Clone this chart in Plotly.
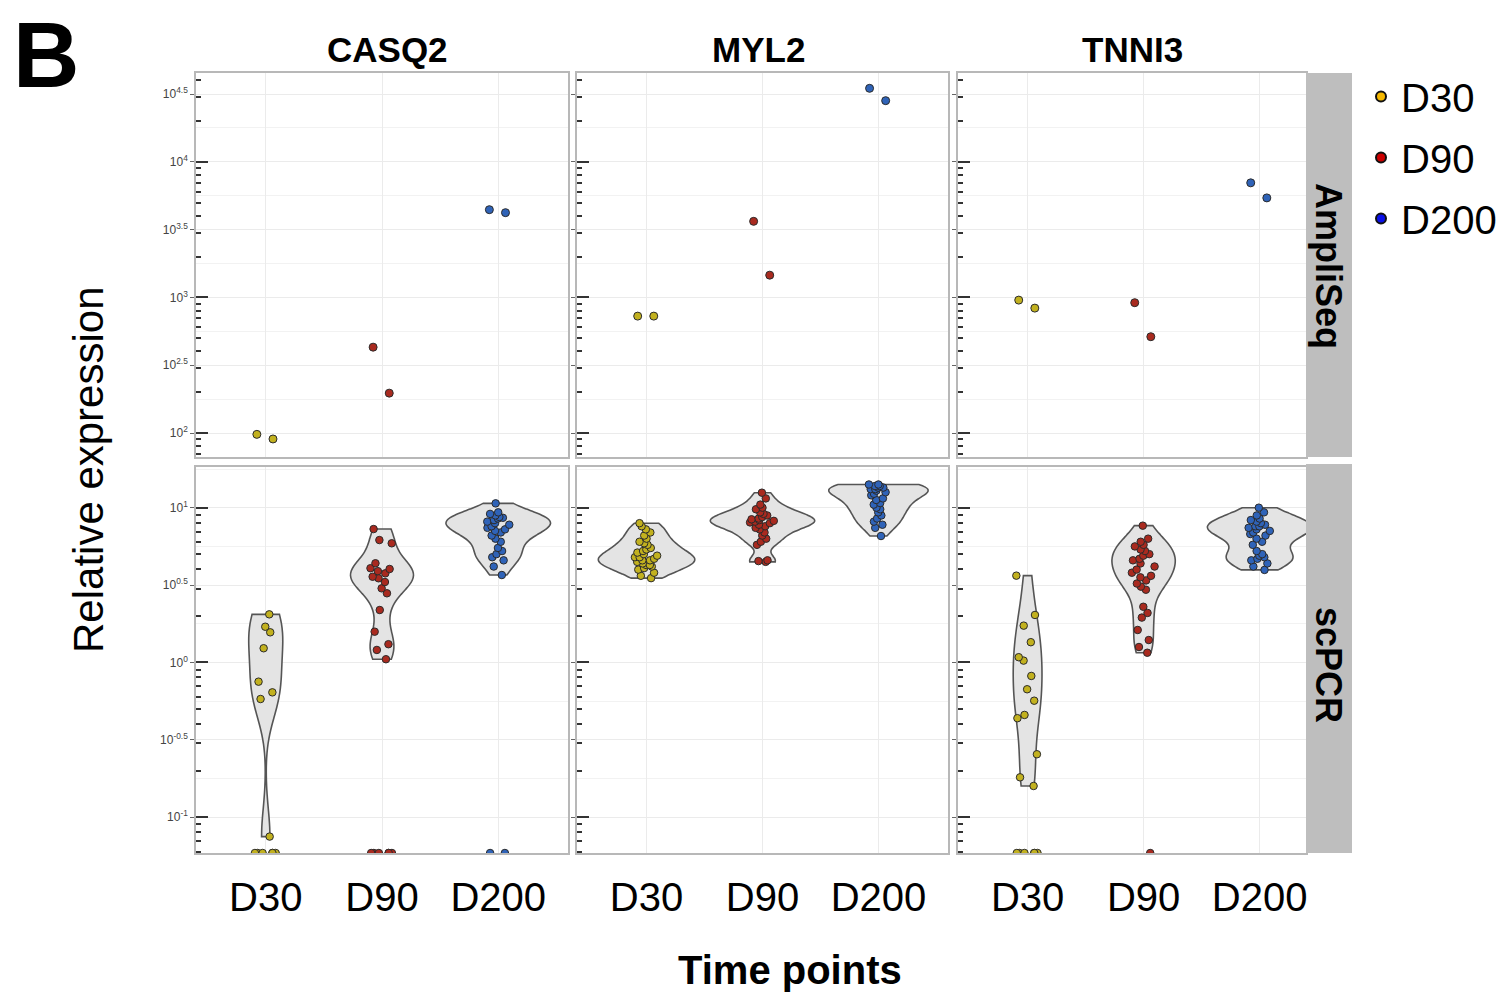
import numpy as np
import plotly.graph_objects as go

# ---------------- data (log10 of relative expression) ----------------
genes = ["CASQ2", "MYL2", "TNNI3"]
time_points = ["D30", "D90", "D200"]
assays = ["AmpliSeq", "scPCR"]

# AmpliSeq: two replicates per time point
casq2_ampliseq_d30 = [1.990, 1.956]
casq2_ampliseq_d90 = [2.633, 2.294]
casq2_ampliseq_d200 = [3.625, 3.647]
myl2_ampliseq_d30 = [2.862, 2.862]
myl2_ampliseq_d90 = [3.561, 3.164]
myl2_ampliseq_d200 = [4.542, 4.451]
tnni3_ampliseq_d30 = [2.921, 2.980]
tnni3_ampliseq_d90 = [2.710, 2.961]
tnni3_ampliseq_d200 = [3.734, 3.845]

# scPCR: single cells with non-zero expression
casq2_scpcr_d30 = [0.311, 0.231, 0.195, 0.092, -0.124, -0.193, -0.236, -1.125]
casq2_scpcr_d90 = [0.862, 0.791, 0.770, 0.641, 0.609, 0.604, 0.590, 0.576, 0.554,
                   0.544, 0.520, 0.479, 0.447, 0.339, 0.199, 0.118, 0.081, 0.021]
casq2_scpcr_d200 = [1.028, 0.970, 0.960, 0.950, 0.940, 0.935, 0.930, 0.920, 0.910,
                    0.900, 0.890, 0.880, 0.870, 0.860, 0.850, 0.840, 0.820, 0.800,
                    0.780, 0.740, 0.720, 0.700, 0.680, 0.660, 0.620, 0.565]
myl2_scpcr_d30 = [0.900, 0.880, 0.860, 0.840, 0.820, 0.800, 0.780, 0.770, 0.760, 0.740,
                  0.730, 0.720, 0.710, 0.700, 0.690, 0.680, 0.680, 0.670, 0.660, 0.660,
                  0.650, 0.640, 0.630, 0.630, 0.620, 0.610, 0.600, 0.580, 0.560, 0.545]
myl2_scpcr_d90 = [1.097, 1.060, 1.020, 1.000, 0.990, 0.970, 0.960, 0.950, 0.940, 0.930,
                  0.925, 0.920, 0.915, 0.910, 0.905, 0.900, 0.890, 0.880, 0.870, 0.860,
                  0.840, 0.820, 0.800, 0.780, 0.760, 0.660, 0.655, 0.650]
myl2_scpcr_d200 = [1.150, 1.150, 1.140, 1.140, 1.130, 1.130, 1.120, 1.120, 1.110, 1.100,
                   1.090, 1.080, 1.060, 1.050, 1.030, 1.020, 1.000, 0.990, 0.970, 0.950,
                   0.930, 0.910, 0.890, 0.870, 0.817]
tnni3_scpcr_d30 = [0.561, 0.307, 0.238, 0.131, 0.034, 0.012, -0.087, -0.173, -0.247,
                   -0.339, -0.360, -0.593, -0.742, -0.798]
tnni3_scpcr_d90 = [0.884, 0.800, 0.780, 0.760, 0.750, 0.730, 0.720, 0.700, 0.690, 0.670,
                   0.660, 0.640, 0.620, 0.600, 0.580, 0.560, 0.550, 0.530, 0.510, 0.490,
                   0.470, 0.360, 0.320, 0.290, 0.210, 0.145, 0.100, 0.063]
tnni3_scpcr_d200 = [1.000, 0.970, 0.950, 0.930, 0.920, 0.910, 0.900, 0.890, 0.880, 0.880,
                    0.870, 0.860, 0.850, 0.840, 0.830, 0.820, 0.800, 0.780, 0.760, 0.720,
                    0.700, 0.690, 0.680, 0.670, 0.660, 0.640, 0.620, 0.598]

# scPCR cells with zero expression (drawn at the axis floor, as -Inf on a log scale)
casq2_scpcr_zeros = [6, 6, 2]
myl2_scpcr_zeros = [0, 0, 0]
tnni3_scpcr_zeros = [6, 1, 0]

ampliseq = {
    "CASQ2": [casq2_ampliseq_d30, casq2_ampliseq_d90, casq2_ampliseq_d200],
    "MYL2": [myl2_ampliseq_d30, myl2_ampliseq_d90, myl2_ampliseq_d200],
    "TNNI3": [tnni3_ampliseq_d30, tnni3_ampliseq_d90, tnni3_ampliseq_d200],
}
scpcr = {
    "CASQ2": [casq2_scpcr_d30, casq2_scpcr_d90, casq2_scpcr_d200],
    "MYL2": [myl2_scpcr_d30, myl2_scpcr_d90, myl2_scpcr_d200],
    "TNNI3": [tnni3_scpcr_d30, tnni3_scpcr_d90, tnni3_scpcr_d200],
}
scpcr_zeros = {"CASQ2": casq2_scpcr_zeros, "MYL2": myl2_scpcr_zeros, "TNNI3": tnni3_scpcr_zeros}

# ---------------- styling ----------------
point_colors = {"D30": "#c2b11f", "D90": "#a92a1f", "D200": "#2f63b8"}
legend_colors = {"D30": "#f5b800", "D90": "#cc0000", "D200": "#0a10e8"}
FONT = "Liberation Sans, Arial, sans-serif"
W, H = 1507, 996

col_px = [(196, 568), (577, 948), (958, 1306)]
row_px = [(73, 457), (467, 853)]
x_ranges = [[0.4, 3.6], [0.4, 3.6], [0.4, 3.4]]
y_ranges = [[1.823, 4.655], [-1.231, 1.263]]


def nrd0(x):
    x = np.asarray(x, float)
    n = len(x)
    sd = np.std(x, ddof=1)
    q75, q25 = np.percentile(x, [75, 25])
    lo = min(sd, (q75 - q25) / 1.34)
    if lo <= 0:
        lo = sd if sd > 0 else 1.0
    return 0.9 * lo * n ** -0.2


def peak_density(x, bw):
    x = np.asarray(x, float)
    g = np.linspace(x.min(), x.max(), 512)
    d = np.exp(-0.5 * ((g[:, None] - x[None, :]) / bw) ** 2).sum(1) / (len(x) * bw * np.sqrt(2 * np.pi))
    return d.max()


def fmt(v):
    return "10<sup>%s</sup>" % (f"{v:g}")


def box_points(x, y, xa, ya, color, width, size, hover="y"):
    return go.Box(
        x=x, y=y, xaxis=xa, yaxis=ya,
        boxpoints="all", jitter=1, pointpos=0, width=width,
        fillcolor="rgba(0,0,0,0)", line=dict(color="rgba(0,0,0,0)", width=0),
        whiskerwidth=0,
        marker=dict(color=color, size=size, line=dict(color="#2b2b2b", width=1)),
        showlegend=False, hoverinfo=hover)


fig = go.Figure()
layout = {}

for r in range(2):
    for c, gene in enumerate(genes):
        idx = r * 3 + c + 1
        xa = "x" if idx == 1 else f"x{idx}"
        ya = "y" if idx == 1 else f"y{idx}"
        ya_log = f"y{idx + 6}"
        if r == 0:
            groups = ampliseq[gene]
            for k, tp in enumerate(time_points):
                fig.add_trace(box_points([k + 1] * len(groups[k]), groups[k], xa, ya,
                                         point_colors[tp], 0.24, 8))
        else:
            groups = scpcr[gene]
            bws = [nrd0(g) for g in groups]
            peaks = [peak_density(g, b) for g, b in zip(groups, bws)]
            pmax = max(peaks)
            floor = y_ranges[1][0]
            for k, tp in enumerate(time_points):
                vals = groups[k]
                fig.add_trace(go.Violin(
                    x=[k + 1] * len(vals), y=vals, xaxis=xa, yaxis=ya,
                    width=0.9 * peaks[k] / pmax, scalegroup=f"{gene}{tp}", scalemode="width",
                    spanmode="hard", bandwidth=bws[k], points=False,
                    fillcolor="#e4e4e4", line=dict(color="#555555", width=1.6),
                    box_visible=False, meanline_visible=False, showlegend=False, hoverinfo="skip"))
                fig.add_trace(box_points([k + 1] * len(vals), vals, xa, ya,
                                         point_colors[tp], 0.22, 7.5))
                nz = scpcr_zeros[gene][k]
                if nz:
                    fig.add_trace(box_points([k + 1] * nz, [floor] * nz, xa, ya,
                                             point_colors[tp], 0.22, 7.5, "skip"))
        # invisible trace so the log-tick overlay axis is drawn
        fig.add_trace(go.Scatter(x=[None], y=[None], xaxis=xa, yaxis=ya_log,
                                 showlegend=False, hoverinfo="skip"))

        # axes
        lo, hi = y_ranges[r]
        half_vals = [float(v) for v in np.arange(np.ceil(lo * 2) / 2, hi + 1e-9, 0.5)]
        quarter_vals = [float(v) for v in np.arange(np.ceil(lo * 4) / 4, hi + 1e-9, 0.25)
                        if abs(v * 2 - round(v * 2)) > 1e-9]
        decades = [float(d) for d in range(int(np.ceil(lo)), int(np.floor(hi)) + 1)]
        logticks = []
        for d in range(int(np.floor(lo)) - 1, int(np.ceil(hi)) + 1):
            for m in range(2, 10):
                v = d + np.log10(m)
                if lo <= v <= hi:
                    logticks.append(float(v))
        x0, x1 = col_px[c]
        t0, t1 = row_px[r]
        layout[f"xaxis{idx}" if idx > 1 else "xaxis"] = dict(
            domain=[x0 / W, x1 / W], anchor=ya, range=x_ranges[c],
            tickmode="array", tickvals=[1, 2, 3], ticktext=time_points,
            showticklabels=(r == 1), ticks="", ticklabelstandoff=8,
            tickfont=dict(family=FONT, size=40, color="#000"),
            showgrid=True, gridcolor="#ebebeb", gridwidth=1, zeroline=False,
            showline=True, mirror=True, linecolor="#b8b8b8", linewidth=1.5, fixedrange=True)
        layout[f"yaxis{idx}" if idx > 1 else "yaxis"] = dict(
            domain=[1 - t1 / H, 1 - t0 / H], anchor=xa, range=[lo, hi],
            tickmode="array", tickvals=half_vals, ticktext=[fmt(v) for v in half_vals],
            showticklabels=(c == 0), ticks="outside", ticklen=4, tickcolor="#666",
            tickfont=dict(family=FONT, size=12, color="#444"),
            showgrid=True, gridcolor="#ebebeb", gridwidth=1, zeroline=False,
            showline=True, mirror=True, linecolor="#b8b8b8", linewidth=1.5,
            minor=dict(tickmode="array", tickvals=quarter_vals, ticks="",
                       showgrid=True, gridcolor="#f2f2f2", gridwidth=1),
            fixedrange=True)
        layout[f"yaxis{idx + 6}"] = dict(
            overlaying=ya, anchor=xa, side="left", range=[lo, hi],
            tickmode="array", tickvals=decades, showticklabels=False,
            ticks="inside", ticklen=12, tickwidth=2, tickcolor="#333",
            showgrid=False, zeroline=False, showline=False,
            minor=dict(tickmode="array", tickvals=logticks, ticks="inside", ticklen=5,
                       tickwidth=1.5, tickcolor="#333", showgrid=False),
            fixedrange=True)

# legend entries
for tp in time_points:
    fig.add_trace(go.Scatter(
        x=[None], y=[None], mode="markers", name=tp, legendgroup=tp,
        marker=dict(color=legend_colors[tp], size=10, line=dict(color="#111", width=2))))

shapes = []
for (t0, t1) in [(73, 457), (464, 853)]:
    shapes.append(dict(type="rect", xref="paper", yref="paper",
                       x0=1306 / W, x1=1352 / W, y0=1 - t1 / H, y1=1 - t0 / H,
                       fillcolor="#bebebe", line=dict(width=0), layer="above"))


def ann(text, x, y, size, bold=False, angle=0):
    return dict(text=text, x=x / W, y=1 - y / H, xref="paper", yref="paper",
                showarrow=False, textangle=angle, xanchor="center", yanchor="middle",
                font=dict(family=FONT, size=size, color="#000", weight="bold" if bold else "normal"))


annotations = [
    ann("B", 46, 55, 92, True),
    ann(genes[0], 387, 50, 35, True),
    ann(genes[1], 758, 50, 35, True),
    ann(genes[2], 1132, 50, 35, True),
    ann(assays[0], 1329, 266, 36, True, 90),
    ann(assays[1], 1329, 665, 36, True, 90),
    ann("Time points", 790, 970, 40, True),
    ann("Relative expression", 88, 470, 42, False, -90),
]

fig.update_layout(
    width=W, height=H, margin=dict(l=0, r=0, t=0, b=0),
    paper_bgcolor="white", plot_bgcolor="white",
    font=dict(family=FONT),
    shapes=shapes, annotations=annotations,
    legend=dict(x=1361 / W, y=1 - 64 / H, xanchor="left", yanchor="top",
                font=dict(family=FONT, size=40, color="#000"), tracegroupgap=6,
                bgcolor="rgba(0,0,0,0)", itemsizing="trace"),
    violinmode="overlay", boxmode="overlay",
    **layout,
)

fig.write_html("out.html")
